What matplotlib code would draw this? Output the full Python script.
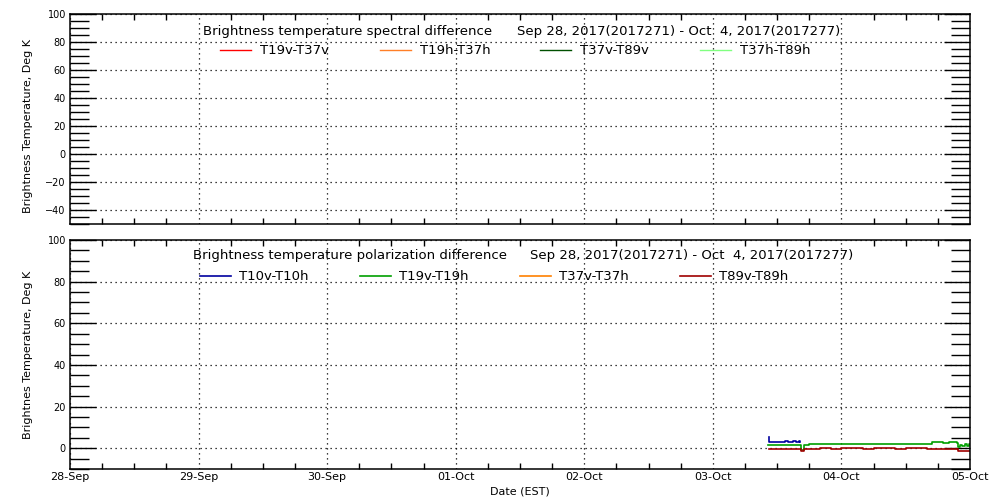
import datetime as dt
import matplotlib
matplotlib.use('Agg')
import matplotlib.pyplot as plt
import matplotlib.dates as mdates
from matplotlib.lines import Line2D
from matplotlib.ticker import MultipleLocator

# hours after 03-Oct-2017 00:00 (EST)
T0 = dt.datetime(2017, 10, 3)
hr_blue = [10.5, 10.55, 10.7, 11, 11.5, 12, 12.5, 13, 13.5, 14, 14.5, 15, 15.5, 16, 16.2]
v_blue = [5.2, 3.0, 2.8, 3.0, 3.1, 3.0, 3.2, 3.1, 3.3, 3.1, 3.2, 3.3, 3.2, 3.4, 3.1]
hr_green = [10.3, 11, 12, 13, 14, 15, 16, 16.2, 16.4, 16.9, 17.1, 17.6, 18, 20, 22, 24, 26, 28, 30,
            32, 34, 36, 38, 40, 40.8, 41, 42, 43, 44, 45, 45.6, 45.8, 46.2, 46.6, 47, 47.4, 47.8, 48]
v_green = [1.5, 1.4, 1.6, 1.5, 1.5, 1.6, 1.5, 1.4, -0.8, -0.9, 1.3, 1.6, 1.9, 2.0, 1.9, 2.1, 2.0, 1.9, 2.0,
           2.1, 2.0, 1.9, 2.0, 2.0, 2.0, 2.8, 2.8, 2.7, 2.8, 2.8, 2.7, 0.8, 1.6, 0.9, 2.0, 1.0, 2.1, 1.8]
hr_red = [10.5, 11, 12, 13, 14, 15, 16, 16.2, 16.4, 16.9, 17.1, 18, 20, 22, 24, 26, 28, 30,
          32, 34, 36, 38, 40, 40.8, 41, 42, 43, 44, 45, 45.6, 45.8, 46.5, 47, 48]
v_red = [-0.6, -0.6, -0.5, -0.6, -0.6, -0.5, -0.6, -0.6, -1.5, -1.5, -0.3, -0.2, -0.1, -0.2, -0.1, -0.1, -0.2, -0.1,
         -0.1, -0.2, -0.1, -0.1, -0.2, -0.2, -0.6, -0.5, -0.6, -0.5, -0.6, -0.6, -1.2, -1.3, -1.2, -1.3]

top_labels = ['T19v-T37v', 'T19h-T37h', 'T37v-T89v', 'T37h-T89h']
top_colors = ['#ff0000', '#ff7f27', '#005000', '#80ff80']
bot_labels = ['T10v-T10h', 'T19v-T19h', 'T37v-T37h', 'T89v-T89h']
bot_colors = ['#0000a0', '#00a000', '#ff8000', '#a00000']
date_range = 'Sep 28, 2017(2017271) - Oct  4, 2017(2017277)'

def times(hrs):
    return [T0 + dt.timedelta(hours=h) for h in hrs]

plt.rcParams['font.family'] = 'DejaVu Sans'
FS_T = 9.5   # titles / legend
FS_L = 8     # axis labels, date labels
FS_Y = 7     # y tick numbers

fig = plt.figure(figsize=(10, 5), dpi=100)
ax1 = fig.add_axes([0.07, 0.552, 0.90, 0.419])
ax2 = fig.add_axes([0.07, 0.062, 0.90, 0.458])

ax2.step(times(hr_green), v_green, where='post', color=bot_colors[1], lw=1.2)
ax2.step(times(hr_red), v_red, where='post', color=bot_colors[3], lw=1.2)
ax2.step(times(hr_blue), v_blue, where='post', color=bot_colors[0], lw=1.2)

xmin, xmax = dt.datetime(2017, 9, 28), dt.datetime(2017, 10, 5)
for ax, (lo, hi) in [(ax1, (-50, 100)), (ax2, (-10, 100))]:
    ax.set_xlim(xmin, xmax)
    ax.set_ylim(lo, hi)
    ax.xaxis.set_major_locator(mdates.DayLocator())
    ax.xaxis.set_minor_locator(mdates.HourLocator(byhour=[6, 12, 18]))
    ax.xaxis.set_major_formatter(mdates.DateFormatter('%d-%b'))
    ax.yaxis.set_major_locator(MultipleLocator(20))
    ax.yaxis.set_minor_locator(MultipleLocator(5))
    ax.tick_params(axis='y', which='major', direction='in', length=19, width=1,
                   left=True, right=True, labelsize=FS_Y, pad=3)
    ax.tick_params(axis='y', which='minor', direction='in', length=14, width=1, left=True, right=True)
    ax.tick_params(axis='x', which='major', length=0, labelsize=FS_L, pad=2)
    ax.tick_params(axis='x', which='minor', direction='in', length=4, width=1, top=True, bottom=True)
    ax.grid(True, which='major', linestyle=(0, (1, 3)), color='black', lw=0.9)
    for s in ax.spines.values():
        s.set_linewidth(1.1)
ax1.tick_params(axis='x', labelbottom=False)
ax1.set_yticks([-40, -20, 0, 20, 40, 60, 80, 100])

ax1.set_ylabel('Brightness Temperature, Deg K', fontsize=FS_L)
ax2.set_ylabel('Brightnes Temperature, Deg K', fontsize=FS_L)
ax2.set_xlabel('Date (EST)', fontsize=FS_L)
ax1.yaxis.set_label_coords(-0.041, 0.47)
ax2.yaxis.set_label_coords(-0.041, 0.5)
ax2.xaxis.set_label_coords(0.5, -0.075)

# titles and legends placed in figure pixel coordinates (IDL style)
def fx(px):
    return px / 1000.0

def fy(py):
    return 1 - py / 500.0

fig.text(fx(203), fy(31), 'Brightness temperature spectral difference', fontsize=FS_T, va='center')
fig.text(fx(517), fy(31), date_range, fontsize=FS_T, va='center')
fig.text(fx(193), fy(255), 'Brightness temperature polarization difference', fontsize=FS_T, va='center')
fig.text(fx(530), fy(255), date_range, fontsize=FS_T, va='center')

for i, (lab, col) in enumerate(zip(top_labels, top_colors)):
    x0 = 220 + 160 * i
    fig.add_artist(Line2D([fx(x0), fx(x0 + 31)], [fy(50), fy(50)], color=col, lw=1))
    fig.text(fx(x0 + 40), fy(50), lab, fontsize=FS_T, va='center')
for i, (lab, col) in enumerate(zip(bot_labels, bot_colors)):
    x0 = 200 + 160 * i
    fig.add_artist(Line2D([fx(x0), fx(x0 + 31)], [fy(276), fy(276)], color=col, lw=1.2))
    fig.text(fx(x0 + 39), fy(276), lab, fontsize=FS_T, va='center')

fig.savefig('out.png', dpi=100)
